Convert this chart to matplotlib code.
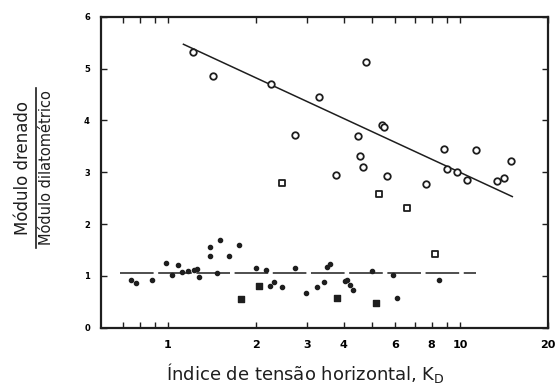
import matplotlib
matplotlib.use("Agg")
import matplotlib.pyplot as plt
from matplotlib.lines import Line2D
from matplotlib.ticker import FixedLocator, FixedFormatter, NullLocator

plt.rcParams['font.family'] = ['DejaVu Sans']

# open circles (upper group)
kd_circ = [1.215, 1.43, 2.25, 3.29, 2.72, 4.77, 5.41, 5.48, 4.49, 4.55, 4.66, 3.76, 5.64,
           7.65, 8.83, 11.3, 9.05, 9.79, 10.55, 13.4, 14.1, 15.0]
r_circ = [5.32, 4.86, 4.70, 4.46, 3.72, 5.13, 3.92, 3.88, 3.70, 3.32, 3.10, 2.94, 2.92,
          2.78, 3.45, 3.43, 3.07, 3.01, 2.85, 2.83, 2.89, 3.22]

# open squares
kd_sq = [2.45, 5.28, 6.57, 8.2]
r_sq = [2.80, 2.58, 2.31, 1.43]

# filled dots (lower group)
kd_dot = [0.745, 0.78, 0.88, 0.985, 1.03, 1.08, 1.12, 1.17, 1.23, 1.26, 1.28, 1.39, 1.39,
          1.47, 1.51, 1.62, 1.75, 2.0, 2.17, 2.23, 2.31, 2.46, 2.72, 2.98, 3.23, 3.43,
          3.51, 3.58, 4.05, 4.09, 4.19, 4.30, 4.98, 5.91, 6.07, 8.44]
r_dot = [0.92, 0.87, 0.92, 1.24, 1.01, 1.21, 1.08, 1.10, 1.12, 1.14, 0.98, 1.56, 1.38,
         1.05, 1.69, 1.38, 1.59, 1.15, 1.12, 0.81, 0.88, 0.79, 1.15, 0.67, 0.78, 0.88,
         1.17, 1.22, 0.90, 0.92, 0.82, 0.72, 1.10, 1.01, 0.57, 0.92]

# filled squares
kd_fsq = [1.78, 2.05, 3.8, 5.16]
r_fsq = [0.55, 0.80, 0.57, 0.47]

# fitted trends
kd_fit_up = [1.13, 15.1]
r_fit_up = [5.47, 2.53]
kd_fit_low = [0.685, 11.3]
r_fit_low = [1.05, 1.05]

ink = '#1e1e1e'

fig = plt.figure(figsize=(5.58, 3.91), dpi=100)
ax = fig.add_axes([0.181, 0.162, 0.801, 0.795])
ax.set_xscale('log')

ax.plot(kd_fit_up, r_fit_up, color=ink, lw=1.1)
ax.plot(kd_fit_low, r_fit_low, color=ink, lw=1.1, linestyle=(0, (22, 3)))

ax.scatter(kd_circ, r_circ, s=22, facecolors='white', edgecolors=ink, linewidths=1.3, zorder=3)
ax.scatter(kd_sq, r_sq, s=24, marker='s', facecolors='white', edgecolors=ink, linewidths=1.3, zorder=3)
ax.scatter(kd_dot, r_dot, s=9, color=ink, zorder=3)
ax.scatter(kd_fsq, r_fsq, s=16, marker='s', color=ink, zorder=3)

ax.set_xlim(0.59, 20)
ax.set_ylim(0, 6)

xticks = [0.7, 0.8, 0.9, 1, 2, 3, 4, 5, 6, 7, 8, 9, 10, 20]
xlabels = ['', '', '', '1', '2', '3', '4', '', '6', '', '8', '', '10', '20']
ax.xaxis.set_major_locator(FixedLocator(xticks))
ax.xaxis.set_major_formatter(FixedFormatter(xlabels))
ax.xaxis.set_minor_locator(NullLocator())
ax.set_yticks(range(7))
ax.set_yticklabels([str(i) for i in range(7)])

ax.tick_params(axis='both', direction='in', length=4, width=1, top=True, right=True, color=ink)
ax.tick_params(axis='x', labelsize=8, pad=9)
ax.tick_params(axis='y', labelsize=6, pad=8)
for lab in ax.get_xticklabels() + ax.get_yticklabels():
    lab.set_fontweight('bold')
for sp in ax.spines.values():
    sp.set_linewidth(1.6)
    sp.set_color(ink)

fig.text(0.547, 0.045, 'Índice de tensão horizontal, K$_{\\mathrm{D}}$', ha='center', va='center',
         fontsize=13, color=ink)

# fraction label on the y axis
fig.text(23 / 558, 1 - 168 / 391, 'Módulo drenado', rotation=90, ha='center', va='center',
         fontsize=12, color=ink)
fig.text(47 / 558, 1 - 168 / 391, 'Módulo dilatométrico', rotation=90, ha='center', va='center',
         fontsize=10.5, color=ink)
fig.add_artist(Line2D([36 / 558, 36 / 558], [1 - 88 / 391, 1 - 248 / 391], color=ink, lw=1.2,
                      transform=fig.transFigure))

fig.savefig('out.png', dpi=100)
